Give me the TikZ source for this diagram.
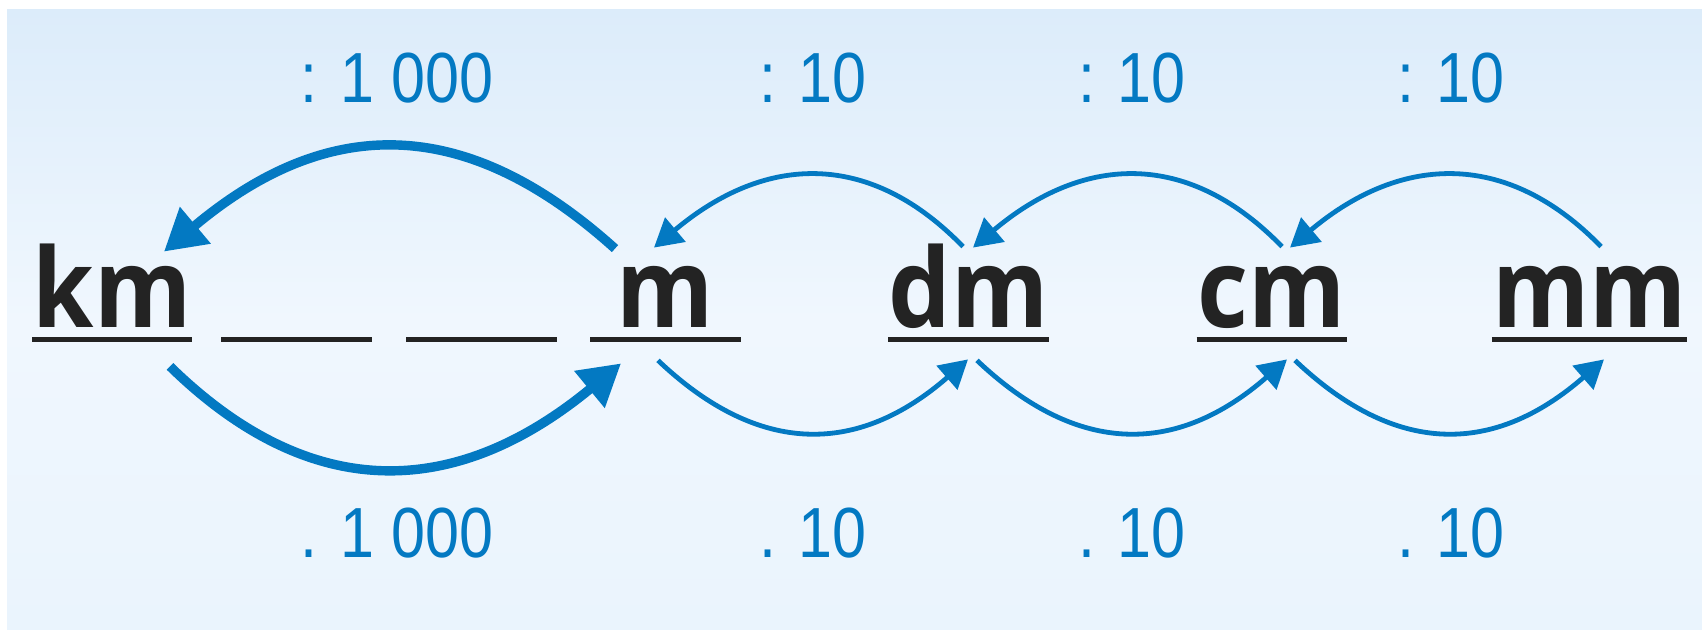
\documentclass[tikz,border=0pt]{standalone}
\usepackage{fontspec}
\setmainfont{Liberation Sans}
\newfontfamily\unitfont[FakeStretch=0.9]{Open Sans}
\newfontfamily\factorfont[FakeStretch=0.86]{Liberation Sans}
\usetikzlibrary{arrows.meta}
\definecolor{ink}{RGB}{35,35,35}
\definecolor{arrowblue}{RGB}{3,121,194}
\definecolor{bgtop}{RGB}{220,236,250}
\definecolor{bgmid}{RGB}{240,247,254}
\definecolor{bgbot}{RGB}{234,244,253}

\begin{document}
\begin{tikzpicture}[x=0.5pt,y=-0.5pt,
  unit/.style={inner sep=0pt,minimum width=75pt,text height=40.25pt,text depth=5.75pt,anchor=base,text=ink,font=\unitfont\bfseries\fontsize{55}{55}\selectfont},
  factor/.style={inner sep=0pt,anchor=base,text=arrowblue,font=\factorfont\fontsize{35.5}{36}\selectfont},
  uline/.style={line width=2.6pt,draw=ink},
  bigarc/.style={draw=arrowblue,line width=4.7pt,-{Triangle[length=20.5pt,width=22.8pt]}},
  smallarc/.style={draw=arrowblue,line width=2.4pt,-{Triangle[length=14pt,width=15.5pt]}}]
  \useasboundingbox (0,0) rectangle (1702,630);
  \shade[top color=bgtop,bottom color=bgbot,middle color=bgmid] (7,10) rectangle (1702,630);
  % units on their lines
  \node[unit] (km) at (112,327.5) {km};
  \node[unit] (b1) at (296.5,327.5) {};
  \node[unit] (b2) at (481.5,327.5) {};
  \node[unit] (m) at (665.5,327.5) {m};
  \node[unit] (dm) at (968.5,327.5) {dm};
  \node[unit] (cm) at (1272,327.5) {cm};
  \node[unit] (mm) at (1589.5,327.5) {mm};
  \foreach \n in {km,b1,b2,m,dm,cm,mm}
    \draw[uline] (\n.south west) -- (\n.south east);
  % factors
  \node[factor] (div1) at (397,103) {: 1 000};
  \node[factor] (div2) at (813,103) {: 10};
  \node[factor] (div3) at (1132,103) {: 10};
  \node[factor] (div4) at (1451,103) {: 10};
  \node[factor] (mul1) at (397,557) {. 1 000};
  \node[factor] (mul2) at (813,557) {. 10};
  \node[factor] (mul3) at (1132,557) {. 10};
  \node[factor] (mul4) at (1451,557) {. 10};
  % km <-> m
  \draw[bigarc] ([xshift=-25.25pt,yshift=-1pt]m.north) .. controls +(-151,-136) and +(162,-136) .. ([xshift=26pt,yshift=-2.5pt]km.north);
  \draw[bigarc] ([xshift=29pt,yshift=-13.5pt]km.south) .. controls +(140,137) and +(-166,137) .. ([xshift=-22.25pt,yshift=-12pt]m.south);
  % steps of ten, upper row
  \draw[smallarc] ([xshift=-2.75pt]dm.north) .. controls +(-92,-95) and +(113,-95) .. ([xshift=-5.75pt,yshift=-0.5pt]m.north);
  \draw[smallarc] ([xshift=5pt]cm.north) .. controls +(-92,-95) and +(113,-95) .. ([xshift=2.25pt,yshift=-0.5pt]dm.north);
  \draw[smallarc] ([xshift=5.75pt]mm.north) .. controls +(-92,-95) and +(113,-95) .. ([xshift=9pt,yshift=-0.5pt]cm.north);
  % steps of ten, lower row
  \draw[smallarc] ([xshift=-3.75pt,yshift=-10.5pt]m.south) .. controls +(101,96) and +(-110,96) .. ([xshift=-0.25pt,yshift=-10pt]dm.south);
  \draw[smallarc] ([xshift=4.25pt,yshift=-10.5pt]dm.south) .. controls +(101,96) and +(-110,96) .. ([xshift=7.5pt,yshift=-10pt]cm.south);
  \draw[smallarc] ([xshift=11.5pt,yshift=-10.5pt]cm.south) .. controls +(101,96) and +(-110,96) .. ([xshift=7.25pt,yshift=-10pt]mm.south);
\end{tikzpicture}
\end{document}
